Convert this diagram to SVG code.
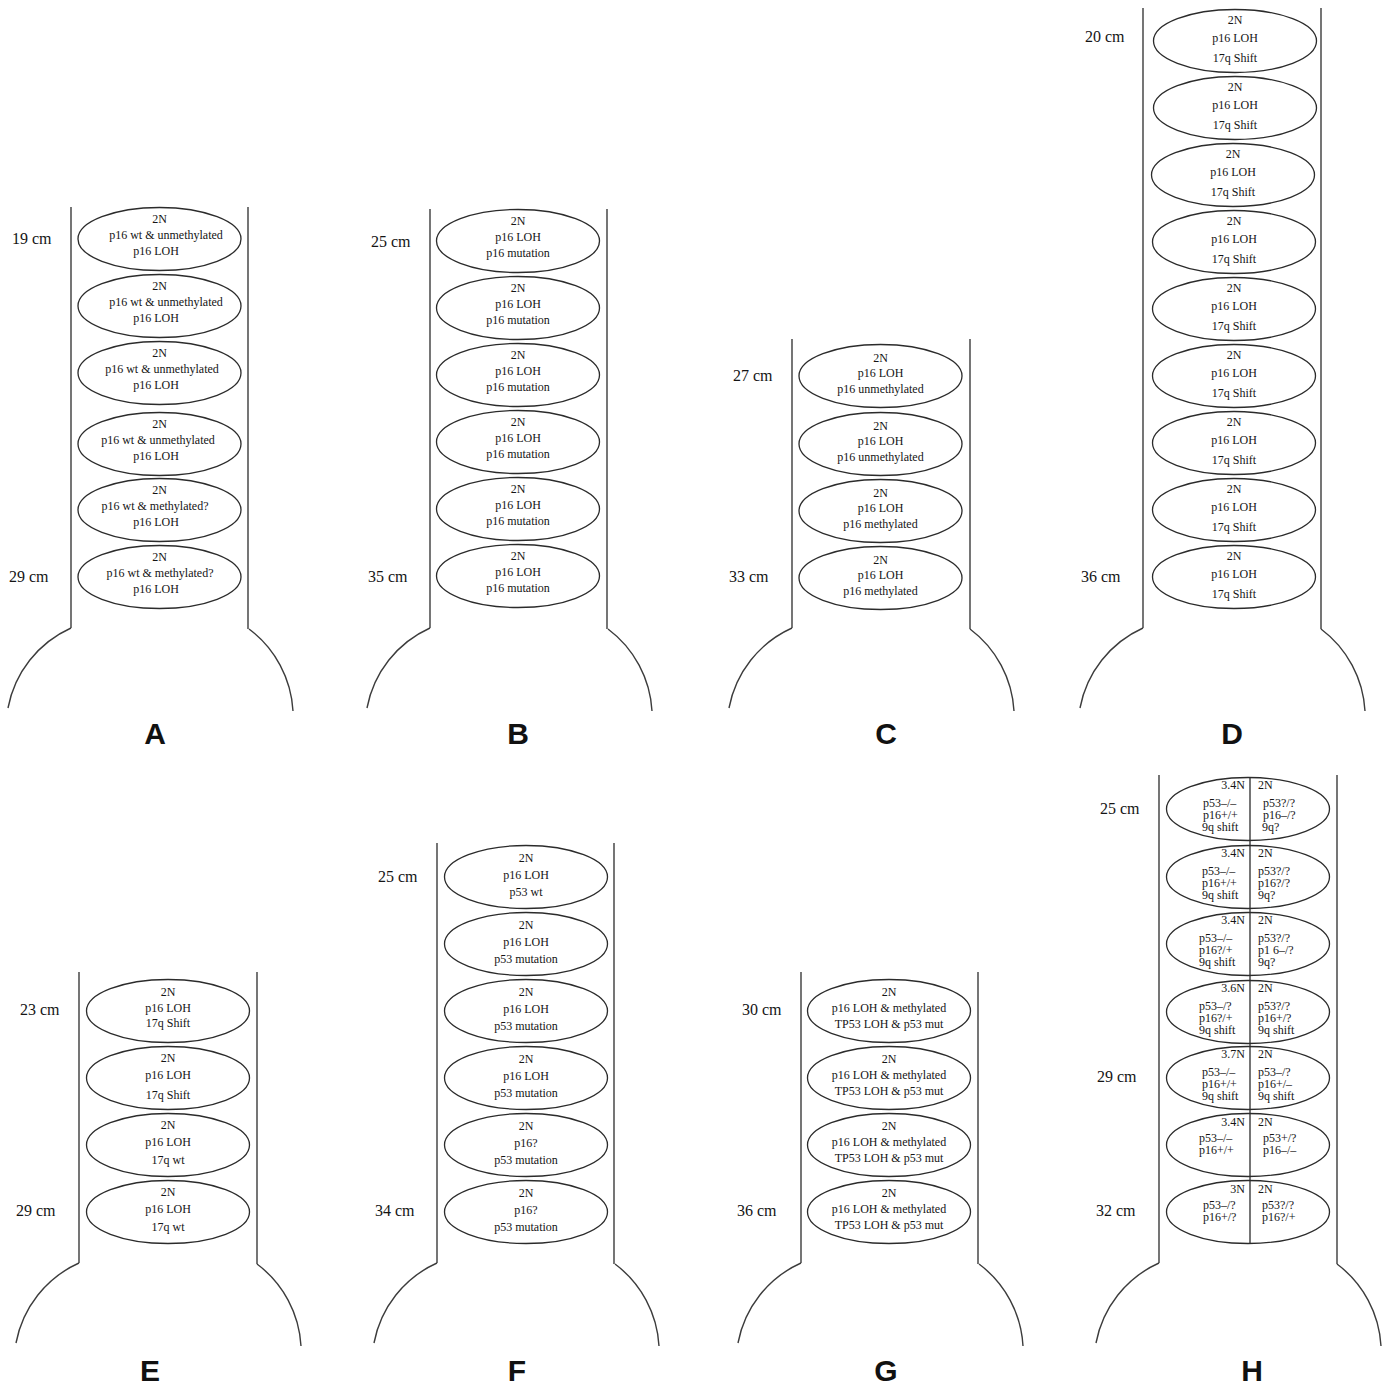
<svg xmlns="http://www.w3.org/2000/svg" xmlns:xlink="http://www.w3.org/1999/xlink" width="1388" height="1387" viewBox="0 0 1388 1387">
  <style>
    .flask { fill: none; stroke: #3c3c3c; stroke-width: 1.4; }
    .node ellipse { fill: #fff; stroke: #2b2b2b; stroke-width: 1.3; }
    .div { stroke: #2b2b2b; stroke-width: 1.3; }
    text { font-family: "Liberation Serif", "Times New Roman", serif; fill: #141414; }
    .t { font-size: 12px; text-anchor: middle; }
    .h { font-size: 12px; }
    .hr { font-size: 12px; text-anchor: end; }
    .cm { font-size: 16px; }
    text.letter { font-family: "Liberation Sans", Arial, sans-serif; font-weight: bold; font-size: 30px; text-anchor: middle; fill: #111; }
  </style>
  <defs>
    <!-- flared base of a tube, origin at the bottom of the left wall -->
    <path id="base" d="M0,0 A110,110 0 0 0 -63,80 M178,1 A110,110 0 0 1 222,83"/>
  </defs>
  <rect width="1388" height="1387" fill="#fff"/>

  <!-- tube outlines -->
  <g id="outlines" class="flask">
    <path d="M71,207 V628 M248,207 V629"/><use xlink:href="#base" transform="translate(71,628)"/>
    <path d="M430,209 V628 M607,209 V629"/><use xlink:href="#base" transform="translate(430,628)"/>
    <path d="M792,339 V628 M970,339 V629"/><use xlink:href="#base" transform="translate(792,628)"/>
    <path d="M1143,8 V628 M1321,8 V629"/><use xlink:href="#base" transform="translate(1143,628)"/>
    <path d="M79,972 V1263 M257,972 V1264"/><use xlink:href="#base" transform="translate(79,1263)"/>
    <path d="M437,843 V1263 M614,843 V1264"/><use xlink:href="#base" transform="translate(437,1263)"/>
    <path d="M801,972 V1263 M978,972 V1264"/><use xlink:href="#base" transform="translate(801,1263)"/>
    <path d="M1159,775 V1263 M1337,775 V1264"/><use xlink:href="#base" transform="translate(1159,1263)"/>
  </g>

  <!-- position labels -->
  <g id="positions">
    <text class="cm" x="12" y="244">19 cm</text><text class="cm" x="9" y="582">29 cm</text>
    <text class="cm" x="371" y="247">25 cm</text><text class="cm" x="368" y="582">35 cm</text>
    <text class="cm" x="733" y="381">27 cm</text><text class="cm" x="729" y="582">33 cm</text>
    <text class="cm" x="1085" y="42">20 cm</text><text class="cm" x="1081" y="582">36 cm</text>
    <text class="cm" x="20" y="1015">23 cm</text><text class="cm" x="16" y="1216">29 cm</text>
    <text class="cm" x="378" y="882">25 cm</text><text class="cm" x="375" y="1216">34 cm</text>
    <text class="cm" x="742" y="1015">30 cm</text><text class="cm" x="737" y="1216">36 cm</text>
    <text class="cm" x="1100" y="814">25 cm</text><text class="cm" x="1097" y="1082">29 cm</text><text class="cm" x="1096" y="1216">32 cm</text>
  </g>

  <!-- panel letters -->
  <g id="panel-letters">
    <text class="letter" x="155" y="744">A</text><text class="letter" x="518" y="744">B</text>
    <text class="letter" x="886" y="744">C</text><text class="letter" x="1232" y="744">D</text>
    <text class="letter" x="150" y="1381">E</text><text class="letter" x="517" y="1381">F</text>
    <text class="letter" x="886" y="1381">G</text><text class="letter" x="1252" y="1381">H</text>
  </g>

  <!-- panel A -->
  <g id="a1" class="node"><ellipse cx="159.5" cy="239" rx="81.5" ry="31.5"/><text class="t" x="159.5" y="223">2N</text><text class="t" x="166" y="239">p16 wt &amp; unmethylated</text><text class="t" x="156" y="255">p16 LOH</text></g>
  <g id="a2" class="node"><ellipse cx="159.5" cy="306" rx="81.5" ry="31.5"/><text class="t" x="159.5" y="290">2N</text><text class="t" x="166" y="306">p16 wt &amp; unmethylated</text><text class="t" x="156" y="322">p16 LOH</text></g>
  <g id="a3" class="node"><ellipse cx="159.5" cy="373" rx="81.5" ry="31.5"/><text class="t" x="159.5" y="357">2N</text><text class="t" x="162" y="373">p16 wt &amp; unmethylated</text><text class="t" x="156" y="389">p16 LOH</text></g>
  <g id="a4" class="node"><ellipse cx="159.5" cy="444" rx="81.5" ry="31.5"/><text class="t" x="159.5" y="428">2N</text><text class="t" x="158" y="444">p16 wt &amp; unmethylated</text><text class="t" x="156" y="460">p16 LOH</text></g>
  <g id="a5" class="node"><ellipse cx="159.5" cy="510" rx="81.5" ry="31.5"/><text class="t" x="159.5" y="494">2N</text><text class="t" x="155" y="510">p16 wt &amp; methylated?</text><text class="t" x="156" y="526">p16 LOH</text></g>
  <g id="a6" class="node"><ellipse cx="159.5" cy="577" rx="81.5" ry="31.5"/><text class="t" x="159.5" y="561">2N</text><text class="t" x="160" y="577">p16 wt &amp; methylated?</text><text class="t" x="156" y="593">p16 LOH</text></g>

  <!-- panel B -->
  <g id="b1" class="node"><ellipse cx="518" cy="241" rx="81.5" ry="31.5"/><text class="t" x="518" y="225">2N</text><text class="t" x="518" y="241">p16 LOH</text><text class="t" x="518" y="257">p16 mutation</text></g>
  <g id="b2" class="node"><ellipse cx="518" cy="308" rx="81.5" ry="31.5"/><text class="t" x="518" y="292">2N</text><text class="t" x="518" y="308">p16 LOH</text><text class="t" x="518" y="324">p16 mutation</text></g>
  <g id="b3" class="node"><ellipse cx="518" cy="375" rx="81.5" ry="31.5"/><text class="t" x="518" y="359">2N</text><text class="t" x="518" y="375">p16 LOH</text><text class="t" x="518" y="391">p16 mutation</text></g>
  <g id="b4" class="node"><ellipse cx="518" cy="442" rx="81.5" ry="31.5"/><text class="t" x="518" y="426">2N</text><text class="t" x="518" y="442">p16 LOH</text><text class="t" x="518" y="458">p16 mutation</text></g>
  <g id="b5" class="node"><ellipse cx="518" cy="509" rx="81.5" ry="31.5"/><text class="t" x="518" y="493">2N</text><text class="t" x="518" y="509">p16 LOH</text><text class="t" x="518" y="525">p16 mutation</text></g>
  <g id="b6" class="node"><ellipse cx="518" cy="576" rx="81.5" ry="31.5"/><text class="t" x="518" y="560">2N</text><text class="t" x="518" y="576">p16 LOH</text><text class="t" x="518" y="592">p16 mutation</text></g>

  <!-- panel C -->
  <g id="c1" class="node"><ellipse cx="880.5" cy="376" rx="81.5" ry="31.5"/><text class="t" x="880.5" y="362">2N</text><text class="t" x="880.5" y="377">p16 LOH</text><text class="t" x="880.5" y="393">p16 unmethylated</text></g>
  <g id="c2" class="node"><ellipse cx="880.5" cy="444" rx="81.5" ry="31.5"/><text class="t" x="880.5" y="430">2N</text><text class="t" x="880.5" y="445">p16 LOH</text><text class="t" x="880.5" y="461">p16 unmethylated</text></g>
  <g id="c3" class="node"><ellipse cx="880.5" cy="511" rx="81.5" ry="31.5"/><text class="t" x="880.5" y="497">2N</text><text class="t" x="880.5" y="512">p16 LOH</text><text class="t" x="880.5" y="528">p16 methylated</text></g>
  <g id="c4" class="node"><ellipse cx="880.5" cy="578" rx="81.5" ry="31.5"/><text class="t" x="880.5" y="564">2N</text><text class="t" x="880.5" y="579">p16 LOH</text><text class="t" x="880.5" y="595">p16 methylated</text></g>

  <!-- panel D -->
  <g id="d1" class="node"><ellipse cx="1235" cy="41" rx="81.5" ry="31.5"/><text class="t" x="1235" y="24">2N</text><text class="t" x="1235" y="42">p16 LOH</text><text class="t" x="1235" y="62">17q Shift</text></g>
  <g id="d2" class="node"><ellipse cx="1235" cy="108" rx="81.5" ry="31.5"/><text class="t" x="1235" y="91">2N</text><text class="t" x="1235" y="109">p16 LOH</text><text class="t" x="1235" y="129">17q Shift</text></g>
  <g id="d3" class="node"><ellipse cx="1233" cy="175" rx="81.5" ry="31.5"/><text class="t" x="1233" y="158">2N</text><text class="t" x="1233" y="176">p16 LOH</text><text class="t" x="1233" y="196">17q Shift</text></g>
  <g id="d4" class="node"><ellipse cx="1234" cy="242" rx="81.5" ry="31.5"/><text class="t" x="1234" y="225">2N</text><text class="t" x="1234" y="243">p16 LOH</text><text class="t" x="1234" y="263">17q Shift</text></g>
  <g id="d5" class="node"><ellipse cx="1234" cy="309" rx="81.5" ry="31.5"/><text class="t" x="1234" y="292">2N</text><text class="t" x="1234" y="310">p16 LOH</text><text class="t" x="1234" y="330">17q Shift</text></g>
  <g id="d6" class="node"><ellipse cx="1234" cy="376" rx="81.5" ry="31.5"/><text class="t" x="1234" y="359">2N</text><text class="t" x="1234" y="377">p16 LOH</text><text class="t" x="1234" y="397">17q Shift</text></g>
  <g id="d7" class="node"><ellipse cx="1234" cy="443" rx="81.5" ry="31.5"/><text class="t" x="1234" y="426">2N</text><text class="t" x="1234" y="444">p16 LOH</text><text class="t" x="1234" y="464">17q Shift</text></g>
  <g id="d8" class="node"><ellipse cx="1234" cy="510" rx="81.5" ry="31.5"/><text class="t" x="1234" y="493">2N</text><text class="t" x="1234" y="511">p16 LOH</text><text class="t" x="1234" y="531">17q Shift</text></g>
  <g id="d9" class="node"><ellipse cx="1234" cy="577" rx="81.5" ry="31.5"/><text class="t" x="1234" y="560">2N</text><text class="t" x="1234" y="578">p16 LOH</text><text class="t" x="1234" y="598">17q Shift</text></g>

  <!-- panel E -->
  <g id="e1" class="node"><ellipse cx="168" cy="1011" rx="81.5" ry="31.5"/><text class="t" x="168" y="996">2N</text><text class="t" x="168" y="1012">p16 LOH</text><text class="t" x="168" y="1027">17q Shift</text></g>
  <g id="e2" class="node"><ellipse cx="168" cy="1078" rx="81.5" ry="31.5"/><text class="t" x="168" y="1062">2N</text><text class="t" x="168" y="1079">p16 LOH</text><text class="t" x="168" y="1099">17q Shift</text></g>
  <g id="e3" class="node"><ellipse cx="168" cy="1145" rx="81.5" ry="31.5"/><text class="t" x="168" y="1129">2N</text><text class="t" x="168" y="1146">p16 LOH</text><text class="t" x="168" y="1164">17q wt</text></g>
  <g id="e4" class="node"><ellipse cx="168" cy="1212" rx="81.5" ry="31.5"/><text class="t" x="168" y="1196">2N</text><text class="t" x="168" y="1213">p16 LOH</text><text class="t" x="168" y="1231">17q wt</text></g>

  <!-- panel F -->
  <g id="f1" class="node"><ellipse cx="526" cy="877" rx="81.5" ry="31.5"/><text class="t" x="526" y="862">2N</text><text class="t" x="526" y="879">p16 LOH</text><text class="t" x="526" y="896">p53 wt</text></g>
  <g id="f2" class="node"><ellipse cx="526" cy="944" rx="81.5" ry="31.5"/><text class="t" x="526" y="929">2N</text><text class="t" x="526" y="946">p16 LOH</text><text class="t" x="526" y="963">p53 mutation</text></g>
  <g id="f3" class="node"><ellipse cx="526" cy="1011" rx="81.5" ry="31.5"/><text class="t" x="526" y="996">2N</text><text class="t" x="526" y="1013">p16 LOH</text><text class="t" x="526" y="1030">p53 mutation</text></g>
  <g id="f4" class="node"><ellipse cx="526" cy="1078" rx="81.5" ry="31.5"/><text class="t" x="526" y="1063">2N</text><text class="t" x="526" y="1080">p16 LOH</text><text class="t" x="526" y="1097">p53 mutation</text></g>
  <g id="f5" class="node"><ellipse cx="526" cy="1145" rx="81.5" ry="31.5"/><text class="t" x="526" y="1130">2N</text><text class="t" x="526" y="1147">p16?</text><text class="t" x="526" y="1164">p53 mutation</text></g>
  <g id="f6" class="node"><ellipse cx="526" cy="1212" rx="81.5" ry="31.5"/><text class="t" x="526" y="1197">2N</text><text class="t" x="526" y="1214">p16?</text><text class="t" x="526" y="1231">p53 mutation</text></g>

  <!-- panel G -->
  <g id="g1" class="node"><ellipse cx="889" cy="1011" rx="81.5" ry="31.5"/><text class="t" x="889" y="996">2N</text><text class="t" x="889" y="1012">p16 LOH &amp; methylated</text><text class="t" x="889" y="1028">TP53 LOH &amp; p53 mut</text></g>
  <g id="g2" class="node"><ellipse cx="889" cy="1078" rx="81.5" ry="31.5"/><text class="t" x="889" y="1063">2N</text><text class="t" x="889" y="1079">p16 LOH &amp; methylated</text><text class="t" x="889" y="1095">TP53 LOH &amp; p53 mut</text></g>
  <g id="g3" class="node"><ellipse cx="889" cy="1145" rx="81.5" ry="31.5"/><text class="t" x="889" y="1130">2N</text><text class="t" x="889" y="1146">p16 LOH &amp; methylated</text><text class="t" x="889" y="1162">TP53 LOH &amp; p53 mut</text></g>
  <g id="g4" class="node"><ellipse cx="889" cy="1212" rx="81.5" ry="31.5"/><text class="t" x="889" y="1197">2N</text><text class="t" x="889" y="1213">p16 LOH &amp; methylated</text><text class="t" x="889" y="1229">TP53 LOH &amp; p53 mut</text></g>

  <!-- panel H: split ellipses, left and right populations -->
  <g id="h1" class="node"><ellipse cx="1248" cy="809" rx="81.5" ry="31.5"/>
    <text class="hr" x="1245" y="789">3.4N</text><text class="h" x="1258" y="789">2N</text>
    <text class="h" x="1203" y="807">p53–/–</text><text class="h" x="1203" y="819">p16+/+</text><text class="h" x="1202" y="831">9q shift</text>
    <text class="h" x="1263" y="807">p53?/?</text><text class="h" x="1263" y="819">p16–/?</text><text class="h" x="1262" y="831">9q?</text></g>
  <g id="h2" class="node"><ellipse cx="1248" cy="877" rx="81.5" ry="31.5"/>
    <text class="hr" x="1245" y="857">3.4N</text><text class="h" x="1258" y="857">2N</text>
    <text class="h" x="1202" y="875">p53–/–</text><text class="h" x="1202" y="887">p16+/+</text><text class="h" x="1202" y="899">9q shift</text>
    <text class="h" x="1258" y="875">p53?/?</text><text class="h" x="1258" y="887">p16?/?</text><text class="h" x="1258" y="899">9q?</text></g>
  <g id="h3" class="node"><ellipse cx="1248" cy="944" rx="81.5" ry="31.5"/>
    <text class="hr" x="1245" y="924">3.4N</text><text class="h" x="1258" y="924">2N</text>
    <text class="h" x="1199" y="942">p53–/–</text><text class="h" x="1199" y="954">p16?/+</text><text class="h" x="1199" y="966">9q shift</text>
    <text class="h" x="1258" y="942">p53?/?</text><text class="h" x="1258" y="954">p1 6–/?</text><text class="h" x="1258" y="966">9q?</text></g>
  <g id="h4" class="node"><ellipse cx="1248" cy="1012" rx="81.5" ry="31.5"/>
    <text class="hr" x="1245" y="992">3.6N</text><text class="h" x="1258" y="992">2N</text>
    <text class="h" x="1199" y="1010">p53–/?</text><text class="h" x="1199" y="1022">p16?/+</text><text class="h" x="1199" y="1034">9q shift</text>
    <text class="h" x="1258" y="1010">p53?/?</text><text class="h" x="1258" y="1022">p16+/?</text><text class="h" x="1258" y="1034">9q shift</text></g>
  <g id="h5" class="node"><ellipse cx="1248" cy="1078" rx="81.5" ry="31.5"/>
    <text class="hr" x="1245" y="1058">3.7N</text><text class="h" x="1258" y="1058">2N</text>
    <text class="h" x="1202" y="1076">p53–/–</text><text class="h" x="1202" y="1088">p16+/+</text><text class="h" x="1202" y="1100">9q shift</text>
    <text class="h" x="1258" y="1076">p53–/?</text><text class="h" x="1258" y="1088">p16+/–</text><text class="h" x="1258" y="1100">9q shift</text></g>
  <g id="h6" class="node"><ellipse cx="1248" cy="1145" rx="81.5" ry="31.5"/>
    <text class="hr" x="1245" y="1126">3.4N</text><text class="h" x="1258" y="1126">2N</text>
    <text class="h" x="1199" y="1142">p53–/–</text><text class="h" x="1199" y="1154">p16+/+</text>
    <text class="h" x="1263" y="1142">p53+/?</text><text class="h" x="1263" y="1154">p16–/–</text></g>
  <g id="h7" class="node"><ellipse cx="1248" cy="1212" rx="81.5" ry="31.5"/>
    <text class="hr" x="1245" y="1193">3N</text><text class="h" x="1258" y="1193">2N</text>
    <text class="h" x="1203" y="1209">p53–/?</text><text class="h" x="1203" y="1221">p16+/?</text>
    <text class="h" x="1262" y="1209">p53?/?</text><text class="h" x="1262" y="1221">p16?/+</text></g>
  <line id="h-divider" class="div" x1="1250" y1="777" x2="1250" y2="1244"/>
</svg>
